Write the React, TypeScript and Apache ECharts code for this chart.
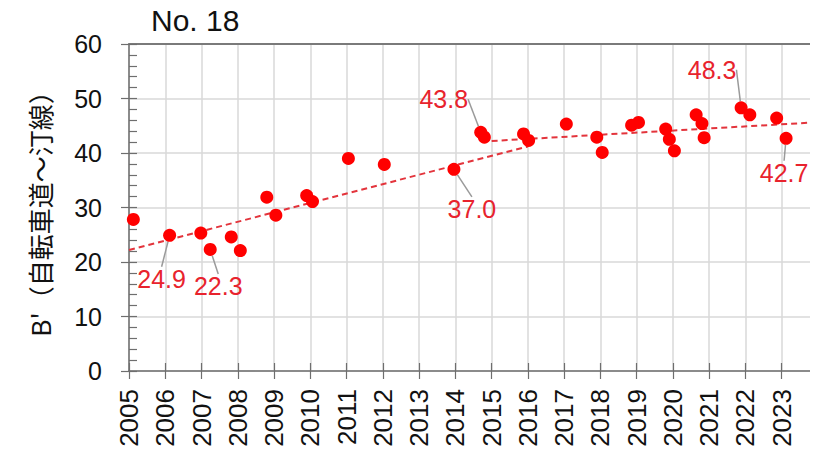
import React, { useEffect, useRef } from "react";
import * as echarts from "echarts";

const titleText = "No. 18";
const yAxisTitle = "B'（自転車道～汀線）";
const yearTicks = [2005, 2006, 2007, 2008, 2009, 2010, 2011, 2012, 2013, 2014, 2015, 2016, 2017, 2018, 2019, 2020, 2021, 2022, 2023];
const pointX = [
  2005.12, 2006.12, 2006.98, 2007.24, 2007.82, 2008.07, 2008.8, 2009.05, 2009.9, 2010.06,
  2011.05, 2012.04, 2013.96, 2014.7, 2014.8, 2015.88, 2016.02, 2017.06, 2017.9, 2018.05,
  2018.86, 2019.05, 2019.8, 2019.9, 2020.04, 2020.64, 2020.8, 2020.86, 2021.88, 2022.12,
  2022.86, 2023.12,
];
const pointY = [
  27.8, 24.9, 25.3, 22.3, 24.6, 22.1, 31.9, 28.6, 32.2, 31.1,
  39.0, 37.9, 37.0, 43.8, 42.9, 43.5, 42.3, 45.3, 42.9, 40.1,
  45.1, 45.6, 44.4, 42.5, 40.4, 47.0, 45.4, 42.8, 48.3, 47.0,
  46.4, 42.7,
];
// indices of annotated points
const labeledIdx = [1, 3, 12, 13, 28, 31];
const trend1X = [2005, 2016];
const trend1Y = [22.2, 41.2];
const trend2X = [2015.0, 2024];
const trend2Y = [42.2, 45.65];

// label offsets (px) relative to the point centre
const labelOffsets: Record<number, [number, number]> = {
  1: [-8, 44],
  3: [8, 37],
  12: [18, 40],
  13: [-37, -33],
  28: [-29, -38],
  31: [-2, 35],
};

export default function App() {
  const ref = useRef<HTMLDivElement>(null);
  useEffect(() => {
    if (!ref.current) return;
    const chart = echarts.init(ref.current, null, { renderer: "svg" });
    const font = "'Liberation Sans', Arial, sans-serif";
    const axisColor = "#6e6e6e";
    const gridColor = "#d9d9d9";
    const xMin = 2005;
    const xMax = 2024;

    const scatterData = pointX.map((x, i) => {
      const item: any = { value: [x, pointY[i]] };
      if (labeledIdx.includes(i)) {
        item.label = { show: true };
        item.labelLine = { show: true };
      }
      return item;
    });

    const baseX = {
      type: "value",
      min: xMin,
      max: xMax,
      interval: 1,
    };

    chart.setOption({
      animation: false,
      backgroundColor: "#ffffff",
      title: {
        text: titleText,
        left: 146,
        top: 0,
        textStyle: { fontFamily: font, fontSize: 30, fontWeight: "normal", color: "#111" },
      },
      grid: { left: 129, top: 44, width: 692, height: 327, show: false },
      xAxis: [
        {
          ...baseX,
          position: "bottom",
          axisLine: { show: true, lineStyle: { color: axisColor, width: 1.5 } },
          axisTick: { show: true, inside: false, length: 8, lineStyle: { color: axisColor, width: 1.2 } },
          axisLabel: {
            show: true,
            rotate: 90,
            margin: 18,
            fontFamily: font,
            fontSize: 26,
            color: "#111",
            showMaxLabel: false,
            formatter: (v: number) => (yearTicks.includes(v) ? String(v) : ""),
          },
          splitLine: { show: true, lineStyle: { color: gridColor, width: 1.5 } },
        },
        {
          ...baseX,
          position: "bottom",
          axisLine: { show: false },
          axisTick: { show: true, inside: true, length: 8, lineStyle: { color: axisColor, width: 1.2 } },
          axisLabel: { show: false },
          splitLine: { show: false },
        },
        {
          ...baseX,
          position: "top",
          axisLine: { show: true, lineStyle: { color: "#7a7a7a", width: 2 } },
          axisTick: { show: false },
          axisLabel: { show: false },
          splitLine: { show: false },
        },
      ],
      yAxis: [
        {
          type: "value",
          min: 0,
          max: 60,
          interval: 10,
          position: "left",
          axisLine: { show: true, lineStyle: { color: axisColor, width: 1.5 } },
          axisTick: { show: true, inside: false, length: 8, lineStyle: { color: axisColor, width: 1.2 } },
          axisLabel: { margin: 27, fontFamily: font, fontSize: 25, color: "#111" },
          splitLine: { show: true, lineStyle: { color: gridColor, width: 1.5 } },
          name: yAxisTitle,
          nameLocation: "middle",
          nameGap: 77,
          nameRotate: 90,
          nameTextStyle: { fontFamily: "'Noto Sans CJK JP', sans-serif", fontSize: 26, color: "#111" },
        },
        {
          type: "value",
          min: 0,
          max: 60,
          interval: 10,
          position: "left",
          axisLine: { show: false },
          axisTick: { show: true, inside: true, length: 8, lineStyle: { color: axisColor, width: 1.2 } },
          minorTick: { show: true, splitNumber: 5, length: 8, lineStyle: { color: axisColor, width: 1.2 } },
          axisLabel: { show: false },
          splitLine: { show: false },
        },
      ],
      series: [
        {
          type: "line",
          data: trend1X.map((x, i) => [x, trend1Y[i]]),
          showSymbol: false,
          symbol: "none",
          lineStyle: { color: "#e3343c", width: 2, type: [6, 4] },
          z: 3,
        },
        {
          type: "line",
          data: trend2X.map((x, i) => [x, trend2Y[i]]),
          showSymbol: false,
          symbol: "none",
          lineStyle: { color: "#e3343c", width: 2, type: [6, 4] },
          z: 3,
        },
        {
          type: "scatter",
          data: scatterData,
          symbol: "circle",
          symbolSize: 13,
          itemStyle: { color: "#ff0000", opacity: 1 },
          z: 4,
          label: {
            show: false,
            position: "inside",
            fontFamily: font,
            fontSize: 25,
            color: "#e8232d",
            formatter: (p: any) => Number(p.value[1]).toFixed(1),
          },
          labelLine: { show: true, lineStyle: { color: "#9a9a9a", width: 1.5 } },
          labelLayout: (p: any) => {
            const off = labelOffsets[p.dataIndex];
            if (!off) return {};
            return { dx: off[0], dy: off[1] };
          },
        },
      ],
    });
    return () => chart.dispose();
  }, []);
  return <div ref={ref} style={{ width: 818, height: 457, marginLeft: -8, marginTop: -8 }} />;
}
